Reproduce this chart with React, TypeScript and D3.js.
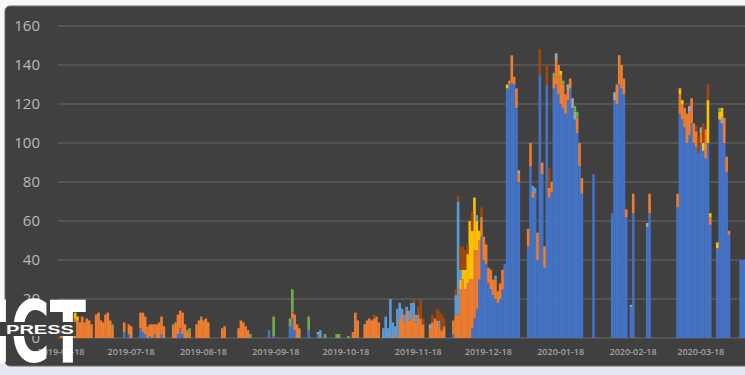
import React from "react";
import * as d3 from "d3";

// ---- data ----
const START_DATE = "2019-06-17";
const DAY_COUNT = 295;
const tickDates = [
  "2019-06-18", "2019-07-18", "2019-08-18", "2019-09-18", "2019-10-18",
  "2019-11-18", "2019-12-18", "2020-01-18", "2020-02-18", "2020-03-18",
];
const yTicks = [0, 20, 40, 60, 80, 100, 120, 140, 160];

const seriesNames = ["blue", "orange", "gray", "yellow", "lightBlue", "green", "darkOrange"];
const seriesColors = ["#4472C4", "#ED7D31", "#A5A5A5", "#FFC000", "#5B9BD5", "#70AD47", "#9E480E"];

// [day index from START_DATE, value]
const blue: [number, number][] = [
  [28, 3], [30, 2], [35, 5], [36, 3], [37, 2], [39, 1], [41, 2], [44, 2], [51, 2], [52, 5], [53, 2],
  [90, 4], [92, 1], [99, 6], [100, 10], [101, 4], [107, 4], [111, 2], [169, 2],
  [177, 5], [178, 10], [179, 15], [180, 30], [181, 52], [182, 40], [183, 38], [184, 28], [185, 25],
  [186, 22], [187, 20], [188, 18], [189, 20], [190, 25], [191, 38], [192, 128], [193, 130], [194, 131],
  [195, 130], [196, 118], [197, 80], [201, 47], [202, 88], [203, 72], [204, 74], [205, 40], [206, 135],
  [207, 84], [208, 36], [209, 130], [210, 72], [211, 75], [212, 128], [213, 130], [214, 125], [215, 120],
  [216, 118], [217, 115], [218, 122], [219, 128], [220, 118], [221, 112], [222, 105], [223, 88], [224, 74],
  [229, 84], [237, 64], [238, 122], [239, 120], [240, 130], [241, 128], [242, 125], [243, 62], [245, 16],
  [246, 64], [252, 57], [253, 64], [265, 67], [266, 115], [267, 112], [268, 108], [269, 100], [270, 104],
  [271, 110], [272, 100], [273, 98], [274, 95], [275, 100], [276, 96], [277, 92], [278, 100], [279, 58],
  [282, 46], [283, 112], [284, 110], [285, 100], [286, 85], [287, 53], [292, 40], [293, 40], [294, 40],
];
const orange: [number, number][] = [
  [1, 6], [2, 8], [3, 7], [4, 9], [5, 10], [6, 8], [7, 10], [8, 9], [9, 8], [10, 11], [11, 8], [12, 10],
  [13, 9], [14, 7], [16, 12], [17, 13], [18, 9], [19, 8], [20, 12], [21, 13], [22, 9], [23, 5],
  [28, 5], [30, 5], [31, 6], [35, 8], [36, 10], [37, 9], [38, 6], [39, 6], [40, 7], [41, 5], [42, 7],
  [43, 8], [44, 9], [45, 6], [49, 6], [50, 8], [51, 10], [52, 9], [53, 11], [54, 7], [55, 3], [56, 3],
  [59, 7], [60, 9], [61, 10], [62, 9], [63, 10], [64, 8], [70, 5], [71, 6], [77, 5], [78, 9], [79, 8],
  [80, 6], [81, 4], [100, 3], [101, 8], [102, 7], [103, 5], [126, 3], [127, 13], [128, 9],
  [131, 6], [132, 9], [133, 10], [134, 9], [135, 10], [136, 11], [137, 8], [143, 2], [146, 10], [147, 12],
  [148, 8], [149, 14], [150, 9], [151, 10], [152, 12], [153, 8], [154, 12], [155, 10], [156, 7],
  [159, 5], [160, 8], [161, 10], [162, 9], [163, 6], [164, 4], [165, 6], [169, 7], [170, 12], [171, 12],
  [172, 25], [173, 30], [174, 25], [175, 28], [176, 30], [177, 25], [178, 35], [179, 30], [180, 20],
  [181, 10], [182, 12], [183, 10], [184, 8], [185, 10], [186, 8], [187, 10], [188, 6], [189, 8], [190, 10],
  [193, 2], [194, 14], [195, 4], [196, 10], [197, 4], [201, 9], [202, 12], [203, 3], [205, 14], [207, 6],
  [208, 11], [210, 5], [211, 5], [212, 6], [213, 12], [214, 15], [215, 15], [216, 12], [217, 10], [218, 5],
  [219, 5], [222, 8], [223, 12], [224, 8], [239, 10], [240, 15], [241, 12], [242, 8], [243, 4], [246, 10],
  [253, 10], [265, 7], [266, 10], [267, 8], [268, 10], [269, 15], [270, 12], [271, 13], [272, 10], [273, 8],
  [275, 5], [277, 15], [279, 4], [285, 13], [286, 8], [287, 2],
];
const gray: [number, number][] = [
  [111, 1], [131, 1], [159, 2], [197, 2], [213, 4], [218, 3], [220, 5], [221, 4], [238, 4], [245, 1],
  [252, 2], [270, 3], [275, 3], [284, 3],
];
const yellow: [number, number][] = [
  [7, 3], [8, 2], [172, 5], [173, 5], [174, 10], [175, 15], [176, 30], [177, 25], [178, 27], [179, 15],
  [180, 5], [192, 2], [215, 2], [266, 3], [267, 2], [276, 4], [278, 22], [279, 2], [282, 3], [283, 4], [284, 5],
];
const lightBlue: [number, number][] = [
  [112, 4], [139, 5], [140, 11], [141, 5], [142, 20], [143, 6], [144, 6], [145, 15], [146, 8], [147, 3],
  [148, 4], [149, 2], [150, 5], [151, 8], [152, 6], [153, 4], [163, 3], [170, 10], [171, 58], [172, 5],
  [179, 3], [187, 2], [203, 3], [204, 3],
];
const green: [number, number][] = [
  [23, 2], [49, 1], [55, 1], [56, 2], [61, 1], [82, 2], [92, 10], [99, 4], [100, 12], [107, 7], [114, 2],
  [119, 2], [120, 2], [124, 1], [212, 2], [216, 2], [221, 3], [222, 3], [283, 2],
];
const darkOrange: [number, number][] = [
  [135, 2], [152, 2], [154, 4], [155, 10], [156, 3], [160, 4], [162, 6], [163, 5], [164, 8], [165, 4],
  [170, 3], [171, 3], [172, 12], [173, 12], [174, 10], [175, 5], [177, 10], [181, 5], [206, 13], [209, 10],
  [210, 10], [273, 3], [274, 8], [276, 10], [278, 8],
];

const seriesData = [blue, orange, gray, yellow, lightBlue, green, darkOrange];

const DAY_MS = 864e5;
const parse = (s: string) => new Date(s + "T00:00:00Z");

export default function App() {
  const W = 745, H = 375;
  const start = parse(START_DATE).getTime();

  const rows = d3.range(DAY_COUNT).map((i) => {
    const r: any = { date: new Date(start + i * DAY_MS) };
    seriesNames.forEach((k) => (r[k] = 0));
    return r;
  });
  seriesData.forEach((arr, si) => {
    arr.forEach(([d, v]) => {
      if (d >= 0 && d < DAY_COUNT) rows[d][seriesNames[si]] = v;
    });
  });
  const stacked = d3.stack<any>().keys(seriesNames)(rows);

  const t0 = parse(tickDates[0]);
  const t1 = parse(tickDates[tickDates.length - 1]);
  const days = (t1.getTime() - t0.getTime()) / DAY_MS;
  const x = d3.scaleUtc().domain([t0, t1]).range([61, 61 + 2.335 * days]);
  const y = d3.scaleLinear().domain([0, 160]).range([338, 26]);
  const fmt = d3.utcFormat("%Y-%m-%d");

  return (
    <svg width={W} height={H} style={{ position: "fixed", left: 0, top: 0 }}>
      <defs>
        <clipPath id="plot">
          <rect x={5} y={6} width={740} height={360} />
        </clipPath>
      </defs>
      <rect x={0} y={0} width={W} height={H} fill="#f5f7fb" />
      <rect x={0} y={364} width={W} height={11} fill="#e3e8f3" />
      <rect x={5} y={6} width={760} height={360} rx={5} fill="#404040" stroke="#6c6c6c" strokeWidth={1} />

      {yTicks.map((t) => (
        <g key={t}>
          <line x1={58} x2={W} y1={y(t)} y2={y(t)} stroke="#5b5b5b" strokeWidth={1.4} />
          <text x={40} y={y(t)} dy="0.36em" textAnchor="end" fontFamily="'Open Sans', sans-serif"
            fontSize={15} fill="#b9b9b9">{t}</text>
        </g>
      ))}

      <g clipPath="url(#plot)">
        {stacked.map((layer, li) => (
          <g key={layer.key} fill={seriesColors[li]}>
            {layer.map((d, i) => {
              if (d[1] - d[0] <= 0) return null;
              const dt = d.data.date as Date;
              const cx = x(dt);
              const w = x(new Date(dt.getTime() + DAY_MS)) - cx;
              return (
                <rect key={i} x={cx - w / 2} width={w + 0.3} y={y(d[1])} height={y(d[0]) - y(d[1])} />
              );
            })}
          </g>
        ))}
      </g>

      {tickDates.map((s) => (
        <text key={s} x={x(parse(s))} y={355} textAnchor="middle" fontFamily="'Open Sans', sans-serif"
          fontSize={9} fontWeight={600} fill="#a3a3a3">{fmt(parse(s))}</text>
      ))}

      {/* watermark logo */}
      <g>
        <text x={-9} y={362} fontFamily="'Liberation Sans Narrow', 'DejaVu Sans Condensed', 'Liberation Sans', sans-serif"
          fontWeight={700} fontSize={86} fill="#ffffff" textLength={95} lengthAdjust="spacingAndGlyphs">ICT</text>
        <rect x={0} y={322} width={76} height={14} fill="#3f3f3f" />
        <text x={6} y={334} fontFamily="'Liberation Sans', sans-serif" fontWeight={700} fontSize={13}
          fill="#ffffff" textLength={68} lengthAdjust="spacingAndGlyphs">PRESS</text>
      </g>
    </svg>
  );
}
